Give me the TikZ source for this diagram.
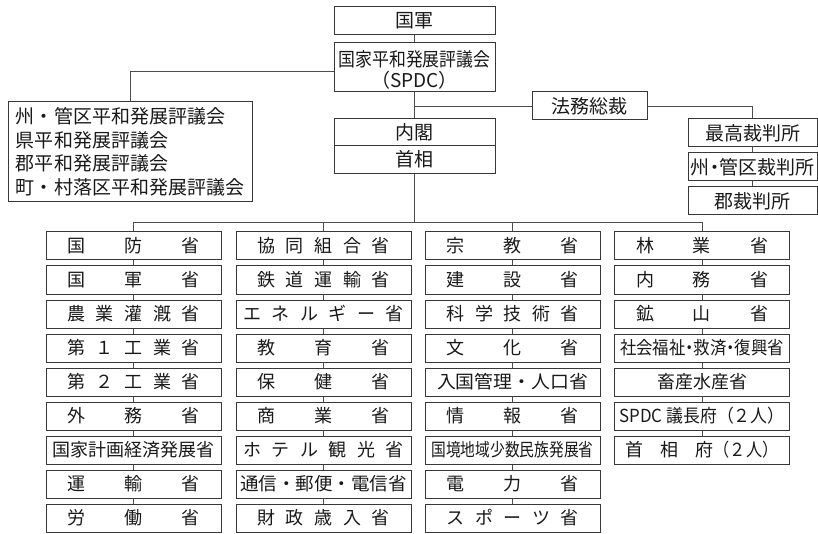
\documentclass[tikz,border=0pt]{standalone}
\usepackage{fontspec}
\usepackage{graphicx}
\setmainfont{Noto Sans CJK JP}
\newcommand{\spr}[2]{\makebox[#1pt]{#2}}
\newcommand{\fitw}[2]{\resizebox{#1pt}{\height}{#2}}
\newcommand{\hdot}{\makebox[0.5em]{・}}
\newcommand{\lowr}[1]{\raisebox{-4pt}[15pt][4pt]{#1}}
\tikzset{
  bx/.style={draw=black!78, line width=1pt, inner sep=0pt, text=black!90,
    minimum height=28pt, font=\fontsize{18}{20}\selectfont},
  mb/.style={bx, minimum width=175pt},
  tb/.style={bx, minimum width=161pt, font=\fontsize{19}{22}\selectfont},
  cb/.style={bx, minimum width=129pt, font=\fontsize{19}{21}\selectfont},
  ln/.style={draw=black!70, line width=0.8pt},
}
\begin{document}
\begin{tikzpicture}[x=1pt,y=-1pt]
\useasboundingbox (0,0) rectangle (818,534);
% top
\node[tb] (gj) at (414.5,21) {国軍};
\node[tb, minimum height=49pt, align=center, font=\fontsize{19}{21}\selectfont] (spdc) at (414.5,67.5)
  {\lowr{\fitw{152}{国家平和発展評議会}}\\\lowr{（SPDC）}};
\node[tb, minimum height=27.5pt] (naikaku) at (414.5,132) {内閣};
\node[tb, minimum height=27.5pt] (shusho) at (414.5,159.5) {首相};
\node[tb, minimum width=115pt] (homu) at (589.5,106) {法務総裁};
\node[bx, minimum width=244pt, minimum height=100pt, align=left,
  font=\fontsize{19}{23.6}\selectfont] (lbox) at (130,152)
  {州・管区平和発展評議会\\県平和発展評議会\\郡平和発展評議会\\町・村落区平和発展評議会\hspace{3pt}};
\node[cb] (saikou) at (752.5,133) {最高裁判所};
\node[cb] (kanku) at (752.5,167) {州\hdot 管区裁判所};
\node[cb] (gunsai) at (752.5,201) {郡裁判所};
% column 1
\node[mb] (c1r1) at (133.5,246) {\spr{132}{国\hfill 防\hfill 省}};
\node[mb] (c1r2) at (133.5,280) {\spr{132}{国\hfill 軍\hfill 省}};
\node[mb] (c1r3) at (133.5,314) {\spr{132}{農\hfill 業\hfill 灌\hfill 漑\hfill 省}};
\node[mb] (c1r4) at (133.5,348) {\spr{132}{第\hfill １\hfill 工\hfill 業\hfill 省}};
\node[mb] (c1r5) at (133.5,382) {\spr{132}{第\hfill ２\hfill 工\hfill 業\hfill 省}};
\node[mb] (c1r6) at (133.5,416) {\spr{132}{外\hfill 務\hfill 省}};
\node[mb] (c1r7) at (133.5,450) {国家計画経済発展省};
\node[mb] (c1r8) at (133.5,484) {\spr{132}{運\hfill 輸\hfill 省}};
\node[mb] (c1r9) at (133.5,518) {\spr{132}{労\hfill 働\hfill 省}};
% column 2
\node[mb] (c2r1) at (323.5,246) {\spr{132}{協\hfill 同\hfill 組\hfill 合\hfill 省}};
\node[mb] (c2r2) at (323.5,280) {\spr{132}{鉄\hfill 道\hfill 運\hfill 輸\hfill 省}};
\node[mb] (c2r3) at (323.5,314) {\spr{160}{エ\hfill ネ\hfill ル\hfill ギ\hfill ー\hfill 省}};
\node[mb] (c2r4) at (323.5,348) {\spr{132}{教\hfill 育\hfill 省}};
\node[mb] (c2r5) at (323.5,382) {\spr{132}{保\hfill 健\hfill 省}};
\node[mb] (c2r6) at (323.5,416) {\spr{132}{商\hfill 業\hfill 省}};
\node[mb] (c2r7) at (323.5,450) {\spr{160}{ホ\hfill テ\hfill ル\hfill 観\hfill 光\hfill 省}};
\node[mb] (c2r8) at (323.5,484) {\fitw{167}{通信・郵便・電信省}};
\node[mb] (c2r9) at (323.5,518) {\spr{132}{財\hfill 政\hfill 歳\hfill 入\hfill 省}};
% column 3
\node[mb] (c3r1) at (512.5,246) {\spr{132}{宗\hfill 教\hfill 省}};
\node[mb] (c3r2) at (512.5,280) {\spr{132}{建\hfill 設\hfill 省}};
\node[mb] (c3r3) at (512.5,314) {\spr{132}{科\hfill 学\hfill 技\hfill 術\hfill 省}};
\node[mb] (c3r4) at (512.5,348) {\spr{132}{文\hfill 化\hfill 省}};
\node[mb] (c3r5) at (512.5,382) {\fitw{151}{入国管理・人口省}};
\node[mb] (c3r6) at (512.5,416) {\spr{132}{情\hfill 報\hfill 省}};
\node[mb] (c3r7) at (512.5,450) {\fitw{162}{国境地域少数民族発展省}};
\node[mb] (c3r8) at (512.5,484) {\spr{132}{電\hfill 力\hfill 省}};
\node[mb] (c3r9) at (512.5,518) {\spr{132}{ス\hfill ポ\hfill ー\hfill ツ\hfill 省}};
% column 4
\node[mb] (c4r1) at (702,246) {\spr{132}{林\hfill 業\hfill 省}};
\node[mb] (c4r2) at (702,280) {\spr{132}{内\hfill 務\hfill 省}};
\node[mb] (c4r3) at (702,314) {\spr{132}{鉱\hfill 山\hfill 省}};
\node[mb] (c4r4) at (702,348) {\fitw{164}{社会福祉\hdot 救済\hdot 復興省}};
\node[mb] (c4r5) at (702,382) {畜産水産省};
\node[mb] (c4r6) at (702,416) {\fitw{165}{SPDC 議長府（２人）}};
\node[mb] (c4r7) at (702,450) {首\hspace{17pt}相\hspace{17pt}府\scalebox{0.9}[1]{（２人）}};
% connectors
\coordinate (bus) at (0,222);
\draw[ln] (gj.south) -- (spdc.north);
\draw[ln] ([yshift=-3.5pt]spdc.west) -| (lbox.north);
\draw[ln] (spdc.south) -- (naikaku.north);
\draw[ln] (spdc.south |- homu.west) -- (homu.west);
\draw[ln] (homu.east) -| (saikou.north);
\draw[ln] (saikou.south) -- (kanku.north);
\draw[ln] (kanku.south) -- (gunsai.north);
\draw[ln] (shusho.south) -- (shusho.south |- bus);
\draw[ln] (c1r1.north |- bus) -- (c4r1.north |- bus);
\foreach \c/\n in {1/9,2/9,3/9,4/7}{
  \draw[ln] (c\c r1.north |- bus) -- (c\c r1.north);
  \foreach \i in {2,...,\n}{
    \pgfmathtruncatemacro{\p}{\i-1}
    \draw[ln] (c\c r\p.south) -- (c\c r\i.north);
  }
}
\end{tikzpicture}
\end{document}
